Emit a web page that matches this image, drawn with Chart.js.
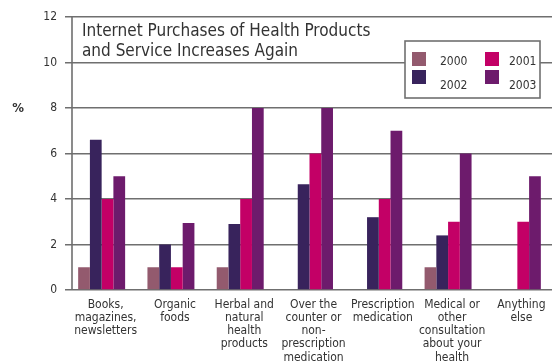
<!DOCTYPE html>
<html>
<head>
<meta charset="utf-8">
<script src="https://cdn.jsdelivr.net/npm/chart.js@4/dist/chart.umd.min.js"></script>
<style>
  html, body { margin: 0; padding: 0; background: #fff; }
  #wrap { width: 554px; height: 362px; position: relative; }
</style>
</head>
<body>
<div id="wrap"><canvas id="c"></canvas></div>
<script>
const categories = [
  ["Books,", "magazines,", "newsletters"],
  ["Organic", "foods"],
  ["Herbal and", "natural", "health", "products"],
  ["Over the", "counter or", "non-", "prescription", "medication"],
  ["Prescription", "medication"],
  ["Medical or", "other", "consultation", "about your", "health"],
  ["Anything", "else"]
];
const values2000 = [1, 1, 1, null, null, 1, null];
const values2002 = [6.6, 2, 2.9, 4.65, 3.2, 2.4, null];
const values2001 = [4, 1, 4, 6, 4, 3, 3];
const values2003 = [5, 2.95, 8, 8, 7, 6, 5];
const yTicks = [0, 2, 4, 6, 8, 10, 12];
const titleLines = ["Internet Purchases of Health Products", "and Service Increases Again"];

const FONT = "'Liberation Sans Narrow', 'DejaVu Sans Condensed', 'Roboto', sans-serif";
const TEXT = "#333333";
const GRID = "#6f6f6f";

const decor = {
  id: "decor",
  afterDatasetsDraw(chart) {
    const ctx = chart.ctx;
    const y = chart.scales.y;
    ctx.save();
    // y axis line
    ctx.strokeStyle = GRID;
    ctx.lineWidth = 1.6;
    ctx.beginPath();
    ctx.moveTo(72, y.getPixelForValue(12));
    ctx.lineTo(72, y.getPixelForValue(0));
    ctx.stroke();
    // % label
    ctx.fillStyle = TEXT;
    ctx.font = "bold 13px " + FONT;
    ctx.textAlign = "center";
    ctx.textBaseline = "middle";
    ctx.fillText("%", 18, y.getPixelForValue(8) + 1);
    // title
    ctx.font = "17px " + FONT;
    ctx.textAlign = "left";
    ctx.textBaseline = "alphabetic";
    ctx.fillText(titleLines[0], 82, 36);
    ctx.fillText(titleLines[1], 82, 56);
    // legend box
    const bx = 405, by = 41, bw = 135, bh = 57;
    ctx.fillStyle = "#ffffff";
    ctx.fillRect(bx, by, bw, bh);
    ctx.strokeStyle = "#707070";
    ctx.lineWidth = 1.6;
    ctx.strokeRect(bx, by, bw, bh);
    const ds = chart.data.datasets;
    const slots = [
      {i: 0, sx: 412, sy: 52, tx: 440, ty: 65},
      {i: 2, sx: 485, sy: 52, tx: 509, ty: 65},
      {i: 1, sx: 412, sy: 70, tx: 440, ty: 89},
      {i: 3, sx: 485, sy: 70, tx: 509, ty: 89}
    ];
    ctx.font = "12px " + FONT;
    slots.forEach(s => {
      ctx.fillStyle = ds[s.i].backgroundColor;
      ctx.fillRect(s.sx, s.sy, 14, 14);
      ctx.fillStyle = TEXT;
      ctx.fillText(ds[s.i].label, s.tx, s.ty);
    });
    ctx.restore();
  }
};

new Chart(document.getElementById("c"), {
  type: "bar",
  data: {
    labels: categories,
    datasets: [
      {label: "2000", data: values2000, backgroundColor: "#935a6e"},
      {label: "2002", data: values2002, backgroundColor: "#38235c"},
      {label: "2001", data: values2001, backgroundColor: "#c30066"},
      {label: "2003", data: values2003, backgroundColor: "#6d1b6c"}
    ]
  },
  options: {
    responsive: true,
    maintainAspectRatio: false,
    animation: false,
    devicePixelRatio: 1,
    layout: {padding: {top: 17, right: 2, left: 0, bottom: 0}},
    datasets: {bar: {barPercentage: 1.0, categoryPercentage: 0.678, borderWidth: 0}},
    plugins: {legend: {display: false}, title: {display: false}, tooltip: {enabled: false}},
    scales: {
      x: {
        grid: {display: false},
        border: {display: false},
        ticks: {
          color: TEXT,
          font: {family: FONT, size: 12, lineHeight: 1.1},
          maxRotation: 0,
          autoSkip: false,
          padding: 0,
          labelOffset: 4
        },
        afterFit(s) { s.height = 72; }
      },
      y: {
        min: 0, max: 12,
        afterBuildTicks(s) { s.ticks = yTicks.map(v => ({value: v})); },
        grid: {color: GRID, lineWidth: 1.6, drawTicks: true, tickLength: 2, tickColor: GRID},
        border: {display: false},
        ticks: {color: TEXT, font: {family: FONT, size: 12}, padding: 8},
        afterFit(s) { s.width = 67; }
      }
    }
  },
  plugins: [decor]
});
</script>
</body>
</html>
